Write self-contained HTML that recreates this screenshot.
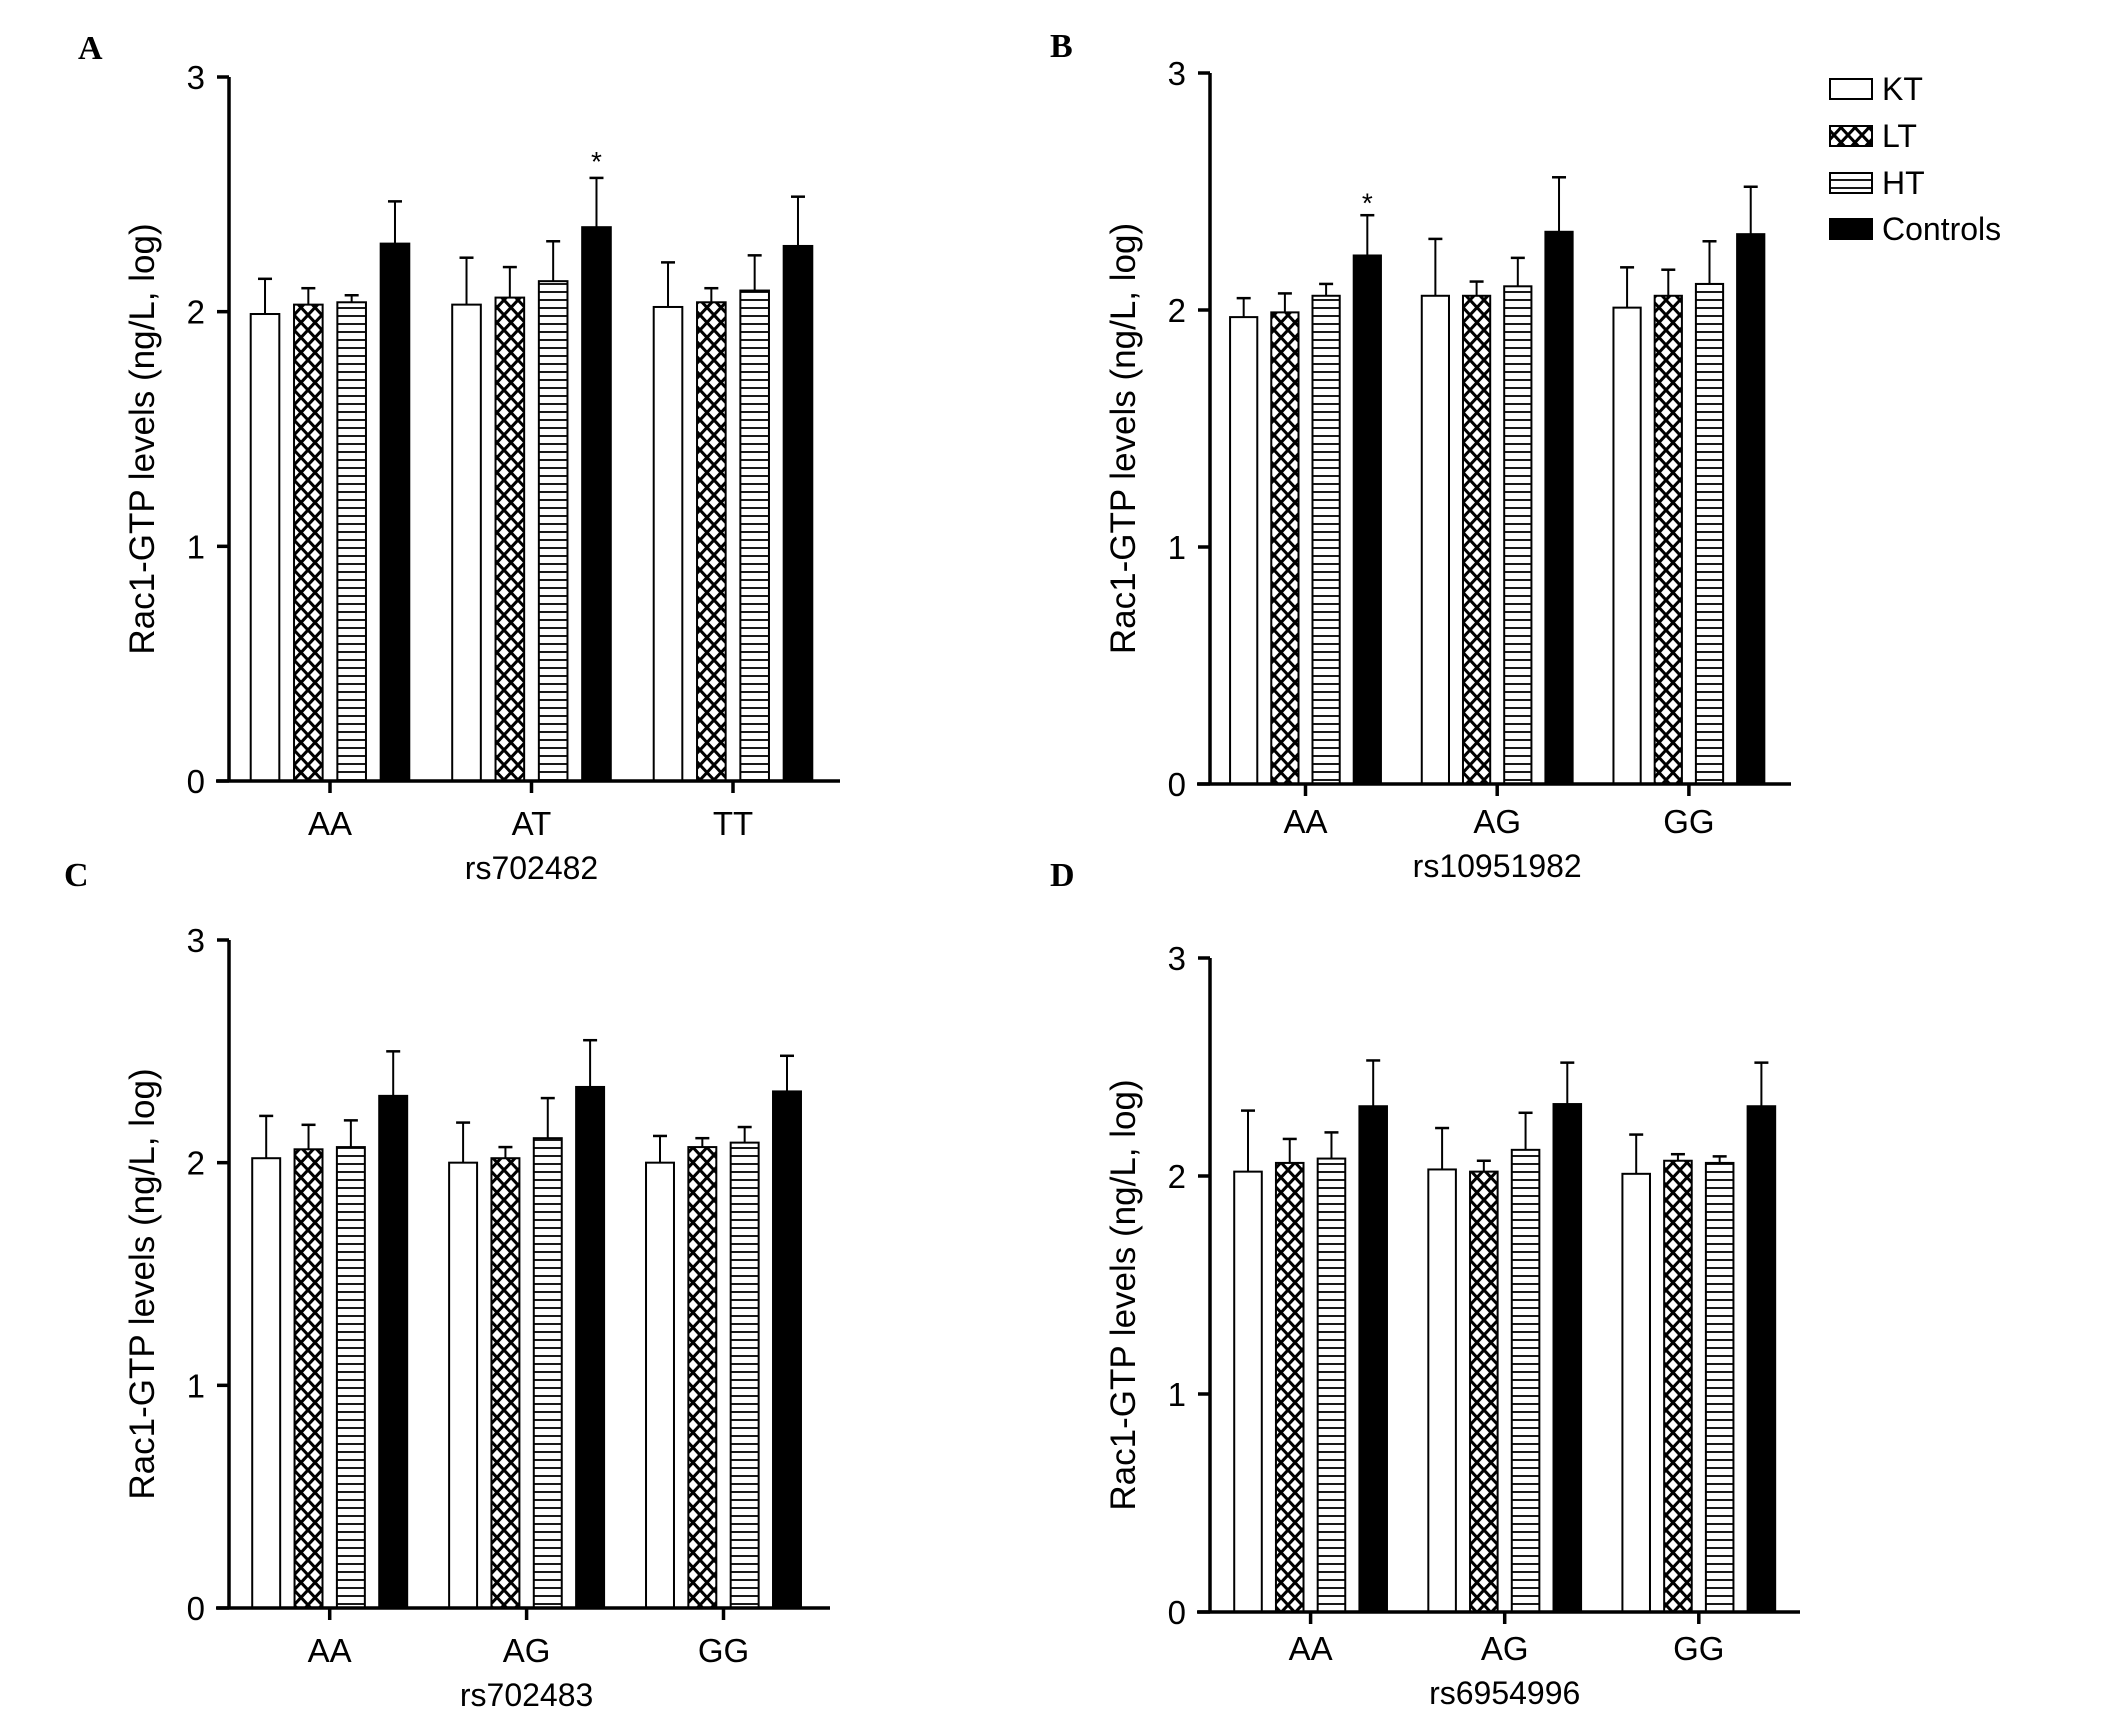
<!DOCTYPE html>
<html><head><meta charset="utf-8"><style>
html,body{margin:0;padding:0;background:#fff;}
svg{display:block;}
text{font-family:"Liberation Sans",Arial,sans-serif;fill:#000;}
.letter{font-family:"Liberation Serif",serif;font-weight:bold;font-size:34px;}
</style></head><body>
<svg id="fig" width="2124" height="1718" viewBox="0 0 2124 1718" xmlns="http://www.w3.org/2000/svg">
<defs>
<pattern id="cross" patternUnits="userSpaceOnUse" width="14" height="15">
<rect width="14" height="15" fill="#fff"/>
<path d="M0,0 L14,15 M14,0 L0,15" stroke="#000" stroke-width="3"/>
</pattern>
<pattern id="hlines" patternUnits="userSpaceOnUse" width="10" height="8">
<rect width="10" height="8" fill="#fff"/>
<path d="M0,4 L10,4" stroke="#000" stroke-width="1.8"/>
</pattern>
</defs>
<text class="letter" x="78" y="59">A</text>
<text class="letter" x="1050" y="57">B</text>
<text class="letter" x="64" y="886">C</text>
<text class="letter" x="1050" y="886">D</text>
<g id="legend">
<rect x="1830" y="79" width="42" height="20" fill="#fff" stroke="#000" stroke-width="2"/>
<text x="1882" y="100" font-size="32">KT</text>
<rect x="1830" y="126" width="42" height="20" fill="url(#cross)" stroke="#000" stroke-width="2"/>
<text x="1882" y="147" font-size="32">LT</text>
<rect x="1830" y="173" width="42" height="20" fill="url(#hlines)" stroke="#000" stroke-width="2"/>
<text x="1882" y="194" font-size="32">HT</text>
<rect x="1830" y="219" width="42" height="20" fill="#000" stroke="#000" stroke-width="2"/>
<text x="1882" y="240" font-size="32">Controls</text>
</g>
</svg>
<script>
const seriesNames = ["KT", "LT", "HT", "Controls"];
const catsA = ["AA", "AT", "TT"];
const catsB = ["AA", "AG", "GG"];
const catsC = ["AA", "AG", "GG"];
const catsD = ["AA", "AG", "GG"];
const yTicks = [0, 1, 2, 3];
// values per category: [KT, LT, HT, Controls]
const meanA = [[1.99, 2.03, 2.04, 2.29], [2.03, 2.06, 2.13, 2.36], [2.02, 2.04, 2.09, 2.28]];
const errA  = [[2.14, 2.10, 2.07, 2.47], [2.23, 2.19, 2.30, 2.57], [2.21, 2.10, 2.24, 2.49]];
const meanB = [[1.97, 1.99, 2.06, 2.23], [2.06, 2.06, 2.10, 2.33], [2.01, 2.06, 2.11, 2.32]];
const errB  = [[2.05, 2.07, 2.11, 2.40], [2.30, 2.12, 2.22, 2.56], [2.18, 2.17, 2.29, 2.52]];
const meanC = [[2.02, 2.06, 2.07, 2.30], [2.00, 2.02, 2.11, 2.34], [2.00, 2.07, 2.09, 2.32]];
const errC  = [[2.21, 2.17, 2.19, 2.50], [2.18, 2.07, 2.29, 2.55], [2.12, 2.11, 2.16, 2.48]];
const meanD = [[2.02, 2.06, 2.08, 2.32], [2.03, 2.02, 2.12, 2.33], [2.01, 2.07, 2.06, 2.32]];
const errD  = [[2.30, 2.17, 2.20, 2.53], [2.22, 2.07, 2.29, 2.52], [2.19, 2.10, 2.09, 2.52]];
const starA = [null, 2.66, null];
const starB = [2.47, null, null];

const NS = "http://www.w3.org/2000/svg";
const svg = document.getElementById("fig");
function mk(tag, attrs, parent) {
  const e = document.createElementNS(NS, tag);
  for (const k in attrs) e.setAttribute(k, attrs[k]);
  (parent || svg).appendChild(e);
  return e;
}
const fills = ["#fff", "url(#cross)", "url(#hlines)", "#000"];

function panel(id, cfg, cats, means, errs, stars, xtitle) {
  const g = mk("g", {});
  
  
  const y = v => cfg.y0 - (v / 3) * (cfg.y0 - cfg.y3);
  const x = i => cfg.t0 + i * cfg.sp;
  const step = cfg.sp * 0.215, bw = cfg.sp * 0.142;
  cats.forEach((c, ci) => {
    means[ci].forEach((m, si) => {
      const cx = x(ci) + (si - 1.5) * step;
      const top = y(errs[ci][si]);
      const l = mk("line", {x1: cx, x2: cx, y1: y(m), y2: top, stroke: "#000", "stroke-width": 2}, g);
      
      
      const cap = mk("line", {x1: cx - 7, x2: cx + 7, y1: top, y2: top, stroke: "#000", "stroke-width": 2.5}, g);
      
      
      const r = mk("rect", {x: cx - bw / 2, y: y(m), width: bw, height: y(0) - y(m), fill: fills[si], stroke: "#000", "stroke-width": 2}, g);
      
      
    });
    if (stars && stars[ci] != null) {
      const cx = x(ci) + 1.5 * step;
      const s = mk("text", {x: cx, y: y(stars[ci]) + 14, "font-size": 28, "text-anchor": "middle"}, g);
      s.textContent = "*";
      
      
    }
    const tk = mk("line", {x1: x(ci), x2: x(ci), y1: cfg.y0, y2: cfg.y0 + 12, stroke: "#000", "stroke-width": 3.5}, g);
    
    
    const tl = mk("text", {x: x(ci), y: cfg.y0 + cfg.lab, "font-size": 33, "text-anchor": "middle"}, g);
    tl.textContent = c;
    
    
  });
  const ya = mk("line", {x1: cfg.ax, x2: cfg.ax, y1: cfg.y3, y2: cfg.y0, stroke: "#000", "stroke-width": 3.5}, g);
  
  
  const xa = mk("line", {x1: cfg.ax - 13, x2: cfg.xr, y1: cfg.y0, y2: cfg.y0, stroke: "#000", "stroke-width": 3.5}, g);
  
  
  yTicks.forEach(t => {
    const tk = mk("line", {x1: cfg.ax - 12, x2: cfg.ax, y1: y(t), y2: y(t), stroke: "#000", "stroke-width": 3.5}, g);
    
    
    const tl = mk("text", {x: cfg.ax - 24, y: y(t) + 12, "font-size": 33, "text-anchor": "end"}, g);
    tl.textContent = t;
    
    
  });
  const ty = (cfg.y0 + cfg.y3) / 2 + 10;
  const yt = mk("text", {x: 0, y: 0, "font-size": 35, "text-anchor": "middle", transform: "translate(" + (cfg.ax - 75) + "," + ty + ") rotate(-90)"}, g);
  yt.textContent = "Rac1-GTP levels (ng/L, log)";
  
  
  const xt = mk("text", {x: x(1), y: cfg.y0 + cfg.lab + 44, "font-size": 32, "text-anchor": "middle"}, g);
  xt.textContent = xtitle;
  
  
}

panel("a", {ax: 229, y3: 77, y0: 781, t0: 330, sp: 201.5, xr: 840, lab: 54}, catsA, meanA, errA, starA, "rs702482");
panel("b", {ax: 1210, y3: 73, y0: 784, t0: 1305.5, sp: 191.7, xr: 1791, lab: 49}, catsB, meanB, errB, starB, "rs10951982");
panel("c", {ax: 229, y3: 940, y0: 1608, t0: 329.7, sp: 196.9, xr: 830, lab: 54}, catsC, meanC, errC, null, "rs702483");
panel("d", {ax: 1210, y3: 958, y0: 1612, t0: 1310.6, sp: 194.1, xr: 1800, lab: 48}, catsD, meanD, errD, null, "rs6954996");
</script>
</body></html>
